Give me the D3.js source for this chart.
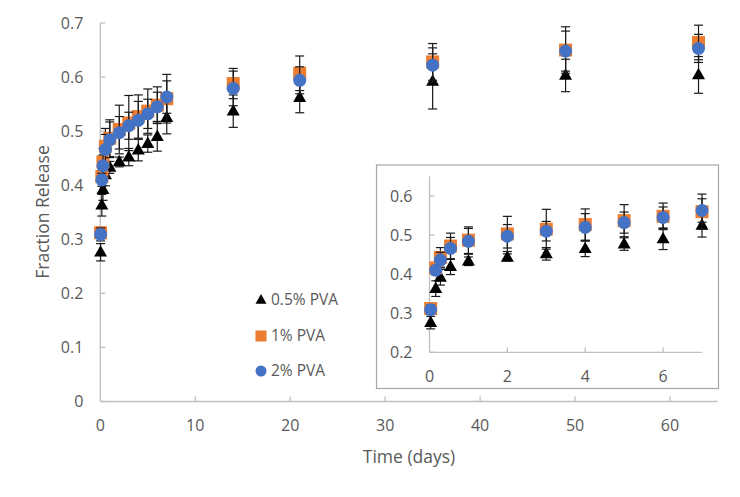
<!DOCTYPE html>
<html><head><meta charset="utf-8">
<script src="https://cdn.jsdelivr.net/npm/d3@7/dist/d3.min.js"></script>
<style>body{margin:0;background:#fff}svg{display:block;font-family:"Open Sans",sans-serif}</style>
</head><body>
<svg id="c" width="740" height="497"></svg>
<script>
const times = [0.03, 0.16, 0.28, 0.54, 1, 2, 3, 4, 5, 6, 7, 14, 21, 35, 49, 63];
const pva05 = [0.276, 0.363, 0.392, 0.419, 0.433, 0.443, 0.452, 0.465, 0.477, 0.490, 0.525, 0.537, 0.562, 0.592, 0.603, 0.604];
const pva05Err = [0.016, 0.020, 0.020, 0.020, 0.011, 0.009, 0.016, 0.020, 0.016, 0.027, 0.030, 0.030, 0.028, 0.051, 0.030, 0.034];
const pva1 = [0.312, 0.416, 0.443, 0.472, 0.487, 0.503, 0.515, 0.527, 0.537, 0.548, 0.560, 0.588, 0.607, 0.628, 0.650, 0.664];
const pva1Err = [0.010, 0.012, 0.025, 0.033, 0.034, 0.045, 0.051, 0.040, 0.041, 0.034, 0.045, 0.028, 0.032, 0.034, 0.043, 0.032];
const pva2 = [0.309, 0.410, 0.436, 0.466, 0.484, 0.497, 0.510, 0.520, 0.532, 0.545, 0.563, 0.579, 0.594, 0.622, 0.648, 0.653];
const pva2Err = [0.012, 0.012, 0.020, 0.028, 0.033, 0.030, 0.025, 0.035, 0.027, 0.027, 0.030, 0.032, 0.025, 0.032, 0.037, 0.026];
const seriesNames = ["0.5% PVA", "1% PVA", "2% PVA"];
const mainXTicks = [0, 10, 20, 30, 40, 50, 60];
const mainYTicks = [0, 0.1, 0.2, 0.3, 0.4, 0.5, 0.6, 0.7];
const insetXTicks = [0, 2, 4, 6];
const insetYTicks = [0.2, 0.3, 0.4, 0.5, 0.6];

const series = [
  {name: seriesNames[0], vals: pva05, err: pva05Err, shape: "tri", color: "#000000"},
  {name: seriesNames[1], vals: pva1, err: pva1Err, shape: "sq", color: "#ED7D31"},
  {name: seriesNames[2], vals: pva2, err: pva2Err, shape: "circ", color: "#4472C4"}
];

const svg = d3.select("#c");
const txt = "#595959", axc = "#bfbfbf";

function marker(g, shape, color, size) {
  if (shape === "circ") {
    return g.append("circle").attr("r", size/2).attr("fill", color);
  } else if (shape === "sq") {
    return g.append("rect").attr("x", -size/2).attr("y", -size/2).attr("width", size).attr("height", size).attr("fill", color);
  } else {
    const h = size*0.88, w = size;
    return g.append("path").attr("d", `M0,${-h*0.62}L${w/2},${h*0.38}L${-w/2},${h*0.38}Z`).attr("fill", color);
  }
}

function drawPanel(g, x, y, xTicks, yTicks, yFmt, tmax, msize) {
  const [x0, x1] = x.range();
  const [y0, y1] = y.range();
  // axes lines
  g.append("line").attr("x1", x0).attr("x2", x0).attr("y1", y0).attr("y2", y1).attr("stroke", axc).attr("stroke-width", 1.3);
  g.append("line").attr("x1", x0).attr("x2", x1).attr("y1", y0).attr("y2", y0).attr("stroke", axc).attr("stroke-width", 1.3);
  yTicks.forEach(t => {
    g.append("line").attr("x1", x0).attr("x2", x0 + 5).attr("y1", y(t)).attr("y2", y(t)).attr("stroke", axc).attr("stroke-width", 1.3);
    g.append("text").attr("x", x0 - 17).attr("y", y(t)).attr("dy", "0.35em").attr("text-anchor", "end")
      .attr("fill", txt).attr("font-size", 16).text(yFmt(t));
  });
  xTicks.forEach(t => {
    if (t > 0) g.append("line").attr("x1", x(t)).attr("x2", x(t)).attr("y1", y0).attr("y2", y0 - 5).attr("stroke", axc).attr("stroke-width", 1.3);
    g.append("text").attr("x", x(t)).attr("y", y0 + 24).attr("dy", "0.35em").attr("text-anchor", "middle")
      .attr("fill", txt).attr("font-size", 16).text(t);
  });
  series.forEach(s => {
    const pts = times.map((t, i) => ({t, v: s.vals[i], e: s.err[i]})).filter(p => p.t <= tmax);
    const eg = g.append("g").attr("stroke", "#1a1a1a").attr("stroke-width", 1.2);
    pts.forEach(p => {
      const cx = x(p.t), ya = y(p.v + p.e), yb = y(p.v - p.e);
      eg.append("line").attr("x1", cx).attr("x2", cx).attr("y1", ya).attr("y2", yb);
      eg.append("line").attr("x1", cx - 4.5).attr("x2", cx + 4.5).attr("y1", ya).attr("y2", ya);
      eg.append("line").attr("x1", cx - 4.5).attr("x2", cx + 4.5).attr("y1", yb).attr("y2", yb);
    });
    pts.forEach(p => {
      const mg = g.append("g").attr("transform", `translate(${x(p.t)},${y(p.v)})`);
      marker(mg, s.shape, s.color, msize);
    });
  });
}

// main chart
const xM = d3.scaleLinear().domain([0, 65]).range([100.3, 717.5]);
const yM = d3.scaleLinear().domain([0, 0.7]).range([401.5, 23]);
const gMain = svg.append("g");
drawPanel(gMain, xM, yM, mainXTicks, mainYTicks, d => d === 0 ? "0" : d3.format(".1f")(d), 70, 13);

svg.append("text").attr("x", 409).attr("y", 457).attr("dy", "0.35em").attr("text-anchor", "middle")
  .attr("fill", txt).attr("font-size", 17.5).text("Time (days)");
svg.append("text").attr("transform", "translate(43,212) rotate(-90)").attr("dy", "0.35em").attr("text-anchor", "middle")
  .attr("fill", txt).attr("font-size", 17.5).text("Fraction Release");

// legend
const legY = [300, 336, 371];
series.forEach((s, i) => {
  const lg = svg.append("g").attr("transform", `translate(261,${legY[i]})`);
  marker(lg, s.shape, s.color, 11);
  svg.append("text").attr("x", 271).attr("y", legY[i]).attr("dy", "0.35em").attr("fill", txt)
    .attr("font-size", 15.5).text(s.name);
});

// inset
svg.append("rect").attr("x", 376.5).attr("y", 165).attr("width", 342).attr("height", 223.5)
  .attr("fill", "#fff").attr("stroke", "#a6a6a6").attr("stroke-width", 1.2);
const xI = d3.scaleLinear().domain([0, 7]).range([429.5, 702]);
const yI = d3.scaleLinear().domain([0.2, 0.65]).range([352.3, 176.5]);
const gIn = svg.append("g");
drawPanel(gIn, xI, yI, insetXTicks, insetYTicks, d3.format(".1f"), 7.5, 13);
</script>
</body></html>
